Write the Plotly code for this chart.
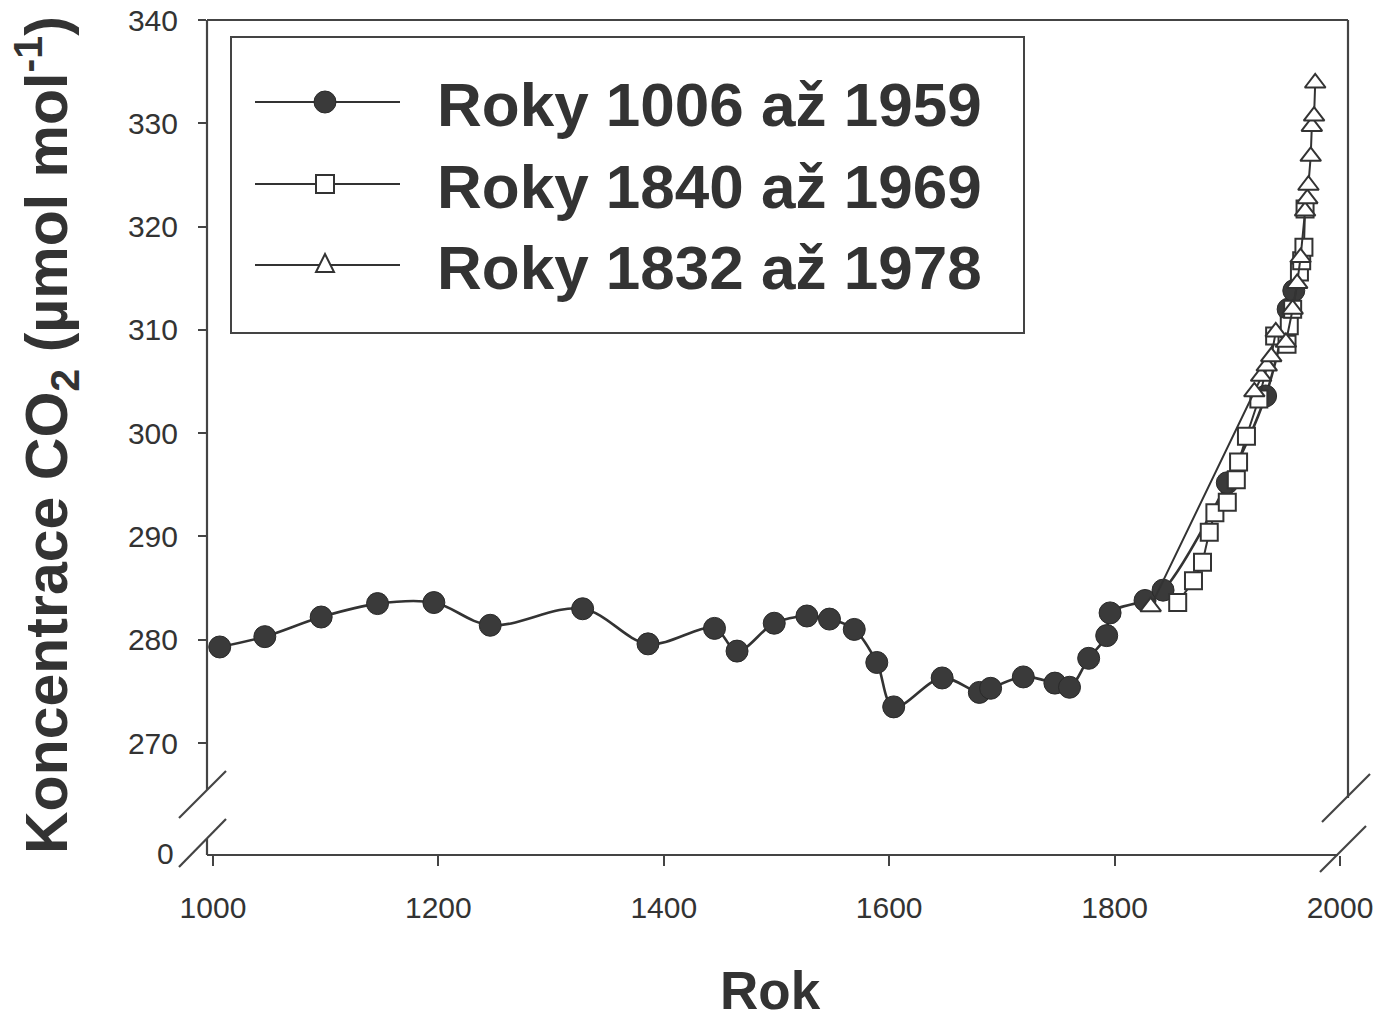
import plotly.graph_objects as go

# ---- data -------------------------------------------------------------
# Ice-core record, years 1006-1959 (filled circles)
years_a = [1006, 1046, 1096, 1146, 1196, 1246, 1328, 1386, 1445, 1465,
           1498, 1527, 1547, 1569, 1589, 1604, 1647, 1680, 1690, 1719,
           1747, 1760, 1777, 1793, 1796, 1827, 1843, 1900, 1934, 1954, 1959]
co2_a = [279.3, 280.3, 282.2, 283.5, 283.6, 281.4, 283.0, 279.6, 281.1, 278.9,
         281.6, 282.3, 282.0, 281.0, 277.8, 273.5, 276.3, 274.9, 275.3, 276.4,
         275.8, 275.4, 278.2, 280.4, 282.6, 283.8, 284.8, 295.2, 303.6, 312.0, 313.8]

# Record 1840-1969 (open squares)
years_b = [1856, 1870, 1878, 1884, 1889, 1900, 1908, 1910, 1917, 1928,
           1942, 1953, 1955, 1958, 1964, 1966, 1968, 1969]
co2_b = [283.6, 285.7, 287.5, 290.4, 292.3, 293.3, 295.5, 297.2, 299.7, 303.3,
         309.4, 308.6, 310.4, 312.0, 315.6, 316.7, 318.0, 321.7]

# Record 1832-1978 (open triangles)
years_c = [1832, 1924, 1930, 1935, 1939, 1943, 1952, 1958, 1962, 1965,
           1969, 1971, 1972, 1974, 1975, 1977, 1978]
co2_c = [283.2, 304.0, 305.5, 306.5, 307.4, 309.8, 308.8, 312.0, 314.5, 317.0,
         321.5, 322.7, 324.0, 326.8, 329.7, 330.7, 333.9]

legend_labels = ["Roky 1006 až 1959", "Roky 1840 až 1969", "Roky 1832 až 1978"]
x_ticks = [1000, 1200, 1400, 1600, 1800, 2000]
y_ticks = [270, 280, 290, 300, 310, 320, 330, 340]

# ---- geometry helpers --------------------------------------------------
W, H = 1379, 1020
ML, MR, MT, MB = 207, 31, 20, 165
PW, PH = W - ML - MR, H - MT - MB


def px(x):
    return (x - ML) / PW


def py(y):
    return (H - MB - y) / PH


INK = "#333333"
AX = "#444444"
FONT = "Liberation Sans, Arial, sans-serif"

fig = go.Figure()

fig.add_trace(go.Scatter(
    x=years_a, y=co2_a, mode="lines+markers", name=legend_labels[0],
    line=dict(color=INK, width=2.6, shape="spline", smoothing=1.0),
    marker=dict(symbol="circle", size=22, color="#3a3a3a",
                line=dict(color="#2a2a2a", width=1)),
    showlegend=False))

fig.add_trace(go.Scatter(
    x=years_b, y=co2_b, mode="lines+markers", name=legend_labels[1],
    line=dict(color=INK, width=2),
    marker=dict(symbol="square", size=17, color="white",
                line=dict(color=INK, width=2)),
    showlegend=False))

fig.add_trace(go.Scatter(
    x=years_c, y=co2_c, mode="lines+markers", name=legend_labels[2],
    line=dict(color=INK, width=2),
    marker=dict(symbol="triangle-up", size=18, color="white",
                line=dict(color=INK, width=2)),
    showlegend=False))

shapes = []


def seg(x0, y0, x1, y1, w=2.2, color=AX):
    shapes.append(dict(type="line", xref="paper", yref="paper",
                       x0=px(x0), y0=py(y0), x1=px(x1), y1=py(y1),
                       line=dict(color=color, width=w)))


# frame with axis breaks
seg(207, 20, 1348, 20)            # top
seg(1348, 20, 1348, 798)          # right, above break
seg(207, 20, 207, 790)            # left, above break
seg(207, 839, 207, 855)           # left, below break
seg(207, 855, 1338, 855)          # bottom
# break marks
seg(179, 818, 226, 771)
seg(179, 867, 226, 819)
seg(1322, 822, 1370, 774)
seg(1320, 872, 1366, 826)

# legend box
shapes.append(dict(type="rect", xref="paper", yref="paper",
                   x0=px(231), x1=px(1024), y0=py(333), y1=py(37),
                   line=dict(color=AX, width=2), fillcolor="white", layer="below"))

rows = [102, 184, 265]
for yy in rows:
    seg(255, yy, 400, yy, w=2, color=INK)
# legend symbols
r = 11
shapes.append(dict(type="circle", xref="paper", yref="paper",
                   x0=px(325 - r), x1=px(325 + r), y0=py(rows[0] + r), y1=py(rows[0] - r),
                   fillcolor="#3a3a3a", line=dict(color="#2a2a2a", width=1)))
s = 9
shapes.append(dict(type="rect", xref="paper", yref="paper",
                   x0=px(325 - s), x1=px(325 + s), y0=py(rows[1] + s), y1=py(rows[1] - s),
                   fillcolor="white", line=dict(color=INK, width=2)))
t = 9
tri = "M {},{} L {},{} L {},{} Z".format(
    px(325 - t), py(rows[2] + 7), px(325 + t), py(rows[2] + 7), px(325), py(rows[2] - 11))
shapes.append(dict(type="path", xref="paper", yref="paper", path=tri,
                   fillcolor="white", line=dict(color=INK, width=2)))

annotations = []
for yy, lab in zip(rows, legend_labels):
    annotations.append(dict(xref="paper", yref="paper", x=px(435), y=py(yy + 2),
                            xanchor="left", yanchor="middle", showarrow=False,
                            text="<b>" + lab + "</b>",
                            font=dict(family=FONT, size=62, color=INK)))

# axis titles
annotations.append(dict(xref="paper", yref="paper", x=px(770), y=py(990),
                        xanchor="center", yanchor="middle", showarrow=False,
                        text="<b>Rok</b>", font=dict(family=FONT, size=53, color=INK)))
annotations.append(dict(xref="paper", yref="paper", x=px(46), y=py(435),
                        xanchor="center", yanchor="middle", showarrow=False,
                        textangle=-90,
                        text="<b>Koncentrace CO<sub>2</sub> (µmol mol<sup>-1</sup>)</b>",
                        font=dict(family=FONT, size=59, color=INK)))
# zero label below the break
annotations.append(dict(xref="paper", yref="paper", x=px(176), y=py(853),
                        xanchor="right", yanchor="middle", showarrow=False,
                        text="0", font=dict(family=FONT, size=30, color=INK)))

fig.update_layout(
    width=W, height=H,
    margin=dict(l=ML, r=MR, t=MT, b=MB),
    paper_bgcolor="white", plot_bgcolor="white",
    font=dict(family=FONT, color=INK),
    shapes=shapes, annotations=annotations,
    showlegend=False,
    xaxis=dict(range=[994.7, 2007.1], tickvals=x_ticks, ticks="outside",
               ticklen=10, tickwidth=2, tickcolor=AX, showline=False,
               showgrid=False, zeroline=False, ticklabelstandoff=16,
               automargin=False,
               tickfont=dict(family=FONT, size=30, color=INK)),
    yaxis=dict(range=[259.16, 340], tickvals=y_ticks, ticks="outside",
               ticklen=8, tickwidth=2, tickcolor=AX, showline=False,
               showgrid=False, zeroline=False, ticklabelstandoff=14,
               automargin=False,
               tickfont=dict(family=FONT, size=30, color=INK)),
)

fig.write_html("out.html")
